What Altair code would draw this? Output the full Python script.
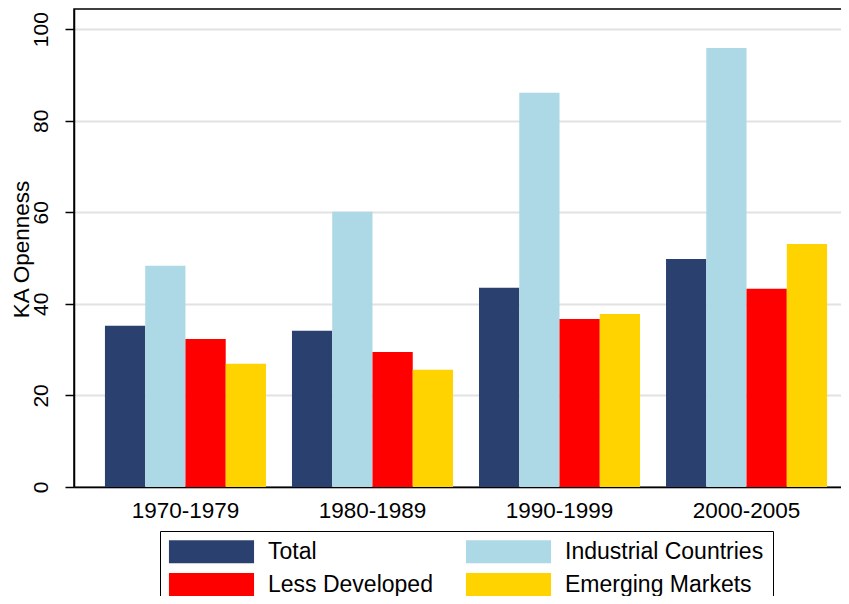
import altair as alt
import pandas as pd

periods = ["1970-1979", "1980-1989", "1990-1999", "2000-2005"]
series = ["Total", "Industrial Countries", "Less Developed", "Emerging Markets"]
total = [35.2, 34.1, 43.5, 49.8]
industrial = [48.3, 60.1, 86.1, 95.9]
less_developed = [32.3, 29.5, 36.7, 43.3]
emerging = [26.9, 25.6, 37.8, 53.1]
colors = ["#2A406E", "#ADD8E6", "#FF0000", "#FFD300"]
y_ticks = [0, 20, 40, 60, 80, 100]

values = [total, industrial, less_developed, emerging]
rows = []
for s, vals in zip(series, values):
    for p, v in zip(periods, vals):
        rows.append({"period": p, "series": s, "value": v})
df = pd.DataFrame(rows)

FONT = "Liberation Sans"
rect_path = "M-3.7,-1L3.7,-1L3.7,1L-3.7,1Z"

chart = alt.Chart(df).mark_bar().encode(
    x=alt.X("period:N", sort=periods, title=None,
            scale=alt.Scale(paddingInner=0.139, paddingOuter=0.1655),
            axis=alt.Axis(labelAngle=0, ticks=False, labelFontSize=22.5, labelFont=FONT,
                          labelColor="black", labelBaseline="alphabetic", labelPadding=30,
                          domainColor="black", domainWidth=1.5, grid=False)),
    xOffset=alt.XOffset("series:N", sort=series),
    y=alt.Y("value:Q", title="KA Openness",
            scale=alt.Scale(domain=[0, 104.4], nice=False, zero=True),
            axis=alt.Axis(values=y_ticks, labelAngle=270, labelAlign="center",
                          labelBaseline="alphabetic", labelPadding=18, tickSize=9,
                          tickColor="black", tickWidth=1.5, labelFontSize=21, labelFont=FONT,
                          labelColor="black", domainColor="black", domainWidth=1.5,
                          grid=True, gridColor="#E2E2E2", gridWidth=2,
                          titleFont=FONT, titleFontSize=22.5, titleFontWeight="normal",
                          titleColor="black", titleAngle=270, titleAlign="center",
                          titleBaseline="alphabetic", titleX=-46, titleY=240)),
    color=alt.Color("series:N", sort=series,
                    scale=alt.Scale(domain=series, range=colors),
                    legend=alt.Legend(title=None, orient="none", legendX=86, legendY=522,
                                      columns=2, direction="horizontal",
                                      symbolType=rect_path, symbolSize=529,
                                      symbolStrokeWidth=0, symbolOffset=31,
                                      labelOffset=45, labelFontSize=23, labelLimit=400,
                                      labelFont=FONT,
                                      labelColor="black", rowPadding=9, columnPadding=32,
                                      padding=9, strokeColor="black", fillColor="white",
                                      symbolOpacity=1)),
).properties(
    width=784, height=478,
    autosize=alt.AutoSizeParams(type="none"),
    padding={"left": 66, "top": 1, "right": -17, "bottom": 109},
).configure_view(stroke="black", strokeWidth=1.5)

chart.save("out.html", embed_options={"renderer": "svg", "actions": False})
